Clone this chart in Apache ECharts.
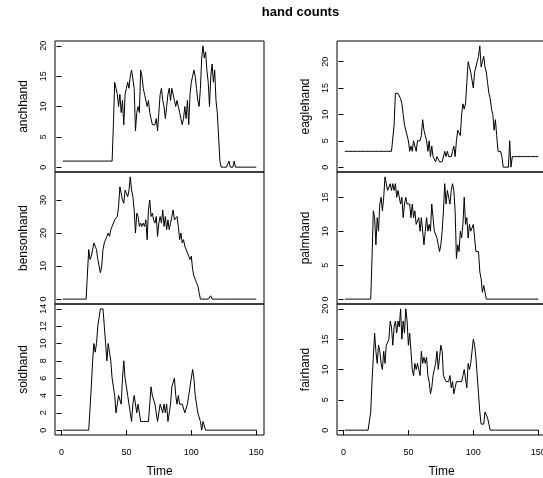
<!DOCTYPE html>
<html><head><meta charset="utf-8">
<script src="https://cdn.jsdelivr.net/npm/echarts@6/dist/echarts.min.js"></script>
<style>html,body{margin:0;padding:0;background:#fff}#c{width:543px;height:478px}</style>
</head><body><div id="c"></div>
<script>
const FONT = '"Liberation Sans", Arial, Helvetica, sans-serif';
const TITLE = 'hand counts';
const X_LABEL = 'Time';
const X_TICKS = [0, 50, 100, 150];

const anchhand = [1,1,1,1,1,1,1,1,1,1, 1,1,1,1,1,1,1,1,1,1, 1,1,1,1,1,1,1,1,1,1, 1,1,1,1,1,1,1,1,1,
  7,14,13,12,10,12,9,11,7,12,
  13,14,13,15,16,16,13,6,9,10,
  9,16,15,13,12,12,10,11,9,8,
  7,7,7,8,6,9,12,13,11,10,
  8,10,12,13,11,13,12,11,10,11,
  10,9,8,7,8,10,8,11,7,12,
  14,15,16,15,13,11,10,13,18,20,
  18,19,16,14,10,15,17,14,16,11,
  9,5,1,
  0,0,0,0,0,0,1,0,0,0,1,0,0,0,0,0,0,0,0,0,0,0,0,0,0,0,0,0];

const eaglehand = [3,3,3,3,3,3,3,3,3,3, 3,3,3,3,3,3,3,3,3,3, 3,3,3,3,3,3,3,3,3,3, 3,3,3,3,3,3,3,3,
  8,14,14,14,14,13,12,10,8,7,7,
  5,3,4,3,5,4,3,5,5,5,
  6,9,7,6,5,3,5,2,4,2,
  2,1,2,2,1,1,1,1,3,2,
  3,2,2,2,3,4,2,5,7,7,
  6,10,12,11,12,16,20,19,18,18,
  15,18,19,20,21,23,19,20,21,19,
  18,16,14,13,11,10,7,9,6,3,
  3,3,2,0,0,0,0,0,5,0,
  2,2,2,2,2,2,2,2,2,2,2,2,2,2,2,2,2,2,2,2,2];

const bensonhand = [0,0,0,0,0,0,0,0,0,0, 0,0,0,0,0,0,0,0,0,0,
  15,12,13,15,17,17,15,12,10,
  8,10,15,17,17,19,20,19,21,22,
  23,24,24,25,28,34,34,30,29,33,
  33,31,33,37,33,31,27,20,26,25,
  22,23,22,23,22,24,18,27,30,25,
  26,24,23,25,19,23,25,23,27,22,
  25,21,24,21,23,25,27,24,24,25,
  22,18,20,17,18,16,16,14,13,12,
  13,9,7,6,5,4,2,0,0,0,
  0,0,0,0,0,1,0,0,0,0,
  0,0,0,0,0,0,0,0,0,0, 0,0,0,0,0,0,0,0,0,0, 0,0,0,0,0,0,0,0,0,0, 0];

const palmhand = [0,0,0,0,0,0,0,0,0,0, 0,0,0,0,0,0,0,0,0,0, 0,
  6,13,12,8,12,10,14,15,
  13,15,18,17,16,16,17,16,17,16,
  17,15,16,15,14,15,12,14,15,14,
  14,14,12,14,12,13,11,11,12,10,
  12,10,8,10,12,10,11,10,14,12,
  10,10,9,8,7,8,10,13,17,14,
  16,15,14,16,17,16,13,6,8,7,
  10,9,11,15,11,12,9,11,10,10,
  11,9,7,7,7,4,3,1,2,1,
  0,0,0,0,0,0,0,0,0,0, 0,0,0,0,0,0,0,0,0,0, 0,0,0,0,0,0,0,0,0,0, 0,0,0,0,0,0,0,0,0,0, 0];

const soldhand = [0,0,0,0,0,0,0,0,0,0, 0,0,0,0,0,0,0,0,0,0, 0,0,
  5,8,10,9,10,12,13,
  14,14,14,12,10,8,10,9,8,6,
  5,4,2,3,4,4,3,6,8,6,
  6,4,4,2,1,3,4,4,2,3,
  2,1,1,1,1,1,1,1,3,5,
  4,4,3,2,1,2,3,3,2,3,
  2,3,1,2,3,5,5,6,4,3,
  4,3,3,3,3,2,2,3,4,5,
  6,7,6,4,3,2,2,1,0,1,
  1,
  0,0,0,0,0,0,0,0,0,0, 0,0,0,0,0,0,0,0,0,0, 0,0,0,0,0,0,0,0,0,0, 0,0,0,0,0,0,0,0,0,0];

const fairhand = [0,0,0,0,0,0,0,0,0,0, 0,0,0,0,0,0,0,0,0,0,
  3,8,12,16,13,11,14,13,11,
  10,13,11,14,14,15,18,17,14,17,
  18,16,18,17,20,15,18,16,20,18,
  14,16,13,10,9,11,10,11,10,9,
  13,11,12,11,12,9,8,6,7,9,
  10,11,13,10,12,14,13,9,9,8,
  8,8,9,7,8,6,7,8,8,8,
  8,8,9,10,10,7,11,10,11,11,
  15,14,12,9,6,3,1,1,1,3,
  3,2,1,0,0,0,0,0,0,0,
  0,0,0,0,0,0,0,0,0,0, 0,0,0,0,0,0,0,0,0,0, 0,0,0,0,0,0,0,0,0,0, 0];

const ticksAnch = [0, 5, 10, 15, 20];
const ticksEagle = [0, 5, 10, 15, 20];
const ticksBenson = [0, 10, 20, 30];
const ticksPalm = [0, 5, 10, 15];
const ticksSold = [0, 2, 4, 6, 8, 10, 12, 14];
const ticksFair = [0, 5, 10, 15, 20];

const panels = [
  {name: 'anchhand', data: anchhand, ticks: ticksAnch, col: 0, row: 0},
  {name: 'bensonhand', data: bensonhand, ticks: ticksBenson, col: 0, row: 1},
  {name: 'soldhand', data: soldhand, ticks: ticksSold, col: 0, row: 2},
  {name: 'eaglehand', data: eaglehand, ticks: ticksEagle, col: 1, row: 0},
  {name: 'palmhand', data: palmhand, ticks: ticksPalm, col: 1, row: 1},
  {name: 'fairhand', data: fairhand, ticks: ticksFair, col: 1, row: 2}
];

const colLeft = [55, 337];
const rowTop = [41, 172, 304];
const rowH = [131, 132, 131];
const gridW = 209;

const n = anchhand.length;
const xmin = 1 - 0.04 * (n - 1), xmax = n + 0.04 * (n - 1);

const grids = [], xAxes = [], yAxes = [], series = [];
panels.forEach((p, i) => {
  grids.push({left: colLeft[p.col], top: rowTop[p.row], width: gridW, height: rowH[p.row],
    outerBoundsMode: 'none', containLabel: false,
    show: true, borderColor: '#000', borderWidth: 1, backgroundColor: 'transparent'});
  const bottom = p.row === 2;
  xAxes.push({type: 'value', gridIndex: i, min: xmin, max: xmax,
    axisLine: {show: false}, splitLine: {show: false},
    axisTick: {show: bottom, customValues: X_TICKS, length: 5, inside: false, lineStyle: {color: '#000'}},
    axisLabel: {show: bottom, customValues: X_TICKS, fontSize: 9, margin: 13, color: '#000', fontFamily: FONT},
    name: bottom ? X_LABEL : '', nameLocation: 'middle', nameGap: 31,
    nameTextStyle: {fontSize: 12, color: '#000', fontFamily: FONT}});
  const ymax = Math.max(...p.data);
  yAxes.push({type: 'value', gridIndex: i, min: -0.04 * ymax, max: 1.04 * ymax,
    axisLine: {show: false}, splitLine: {show: false},
    axisTick: {show: true, customValues: p.ticks, length: 5, inside: false, lineStyle: {color: '#000'}},
    axisLabel: {show: true, customValues: p.ticks, rotate: 90, fontSize: 9, margin: 7, color: '#000', fontFamily: FONT},
    name: p.name, nameLocation: 'middle', nameGap: 25, nameRotate: 90,
    nameTextStyle: {fontSize: 12, color: '#000', fontFamily: FONT}});
  series.push({type: 'line', xAxisIndex: i, yAxisIndex: i, showSymbol: false, symbol: 'none',
    lineStyle: {color: '#000', width: 1}, silent: true,
    data: p.data.map((v, k) => [k + 1, v])});
});

const chart = echarts.init(document.getElementById('c'), null, {renderer: 'canvas'});
chart.setOption({
  animation: false,
  backgroundColor: '#fff',
  textStyle: {fontFamily: FONT},
  graphic: [{type: 'text', x: 300.5, y: 12,
    style: {text: TITLE, font: 'bold 13px ' + FONT, align: 'center', verticalAlign: 'middle', fill: '#000'}}],
  grid: grids, xAxis: xAxes, yAxis: yAxes, series: series
});
</script></body></html>
